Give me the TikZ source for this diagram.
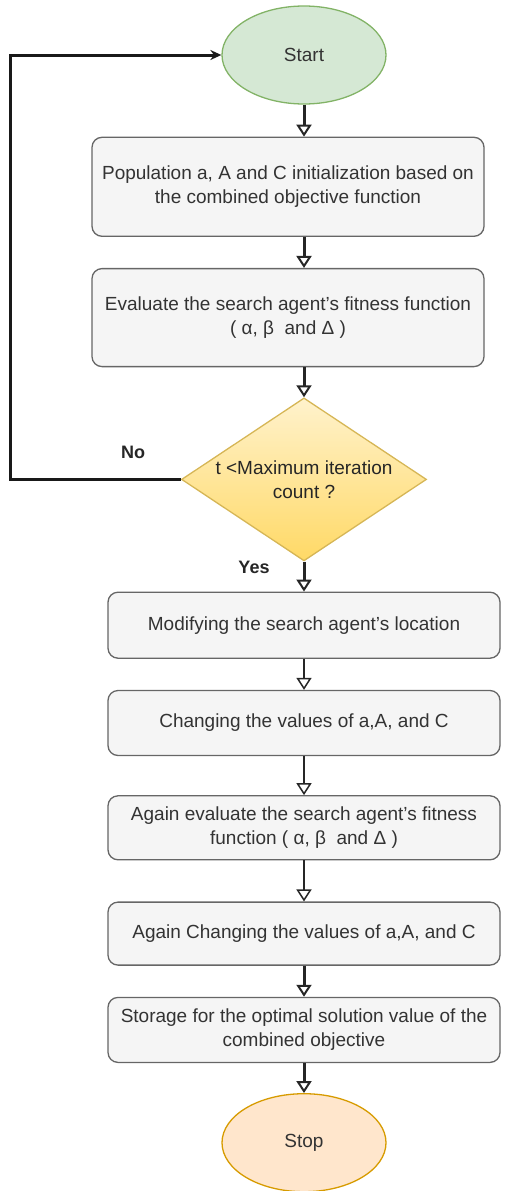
\documentclass[tikz,border=0pt]{standalone}
\usepackage{fontspec}
\setmainfont{Liberation Sans}
\usetikzlibrary{arrows.meta,positioning,shapes.geometric}

\definecolor{startfill}{HTML}{D5E8D4}
\definecolor{startline}{HTML}{82B366}
\definecolor{boxfill}{HTML}{F5F5F5}
\definecolor{boxline}{HTML}{666666}
\definecolor{txtgray}{HTML}{333333}
\definecolor{decline}{HTML}{D6B656}
\definecolor{dectop}{HTML}{FFF2CC}
\definecolor{decbottom}{HTML}{FFD966}
\definecolor{stopfill}{HTML}{FFE6CC}
\definecolor{stopline}{HTML}{D79B00}

\begin{document}
\begin{tikzpicture}[x=1pt, y=-1pt,
  font=\fontsize{19}{24}\selectfont, text=txtgray,
  box/.style={draw=boxline, fill=boxfill, rounded corners=10pt,
              line width=1.3pt, minimum width=392pt, align=center,
              inner sep=2pt},
  term/.style={ellipse, line width=1.3pt, minimum width=164pt,
               minimum height=98pt, inner sep=0pt},
  decision/.style={diamond, aspect=1.5, draw=decline, line width=1.3pt,
                   top color=dectop, bottom color=decbottom,
                   minimum width=245pt, minimum height=163pt,
                   inner sep=0pt, align=center, text=black!85},
  arr/.style={-{Triangle[open, width=15pt, length=12pt, line width=2pt]},
              line width=3pt, draw=black!85},
  thinarr/.style={-{Triangle[open, width=15pt, length=12pt, line width=1.5pt]},
                  line width=1.3pt, draw=black!85},
  lab/.style={font=\bfseries\fontsize{18}{20}\selectfont, text=black!85}
]
  \useasboundingbox (0,0) rectangle (510,1191);

  \node[term, fill=startfill, draw=startline] (start) at (304,55) {Start};
  \node[box, minimum height=99pt, below=32pt of start, xshift=-16pt] (init)
    {Population a, A and C initialization based on\\the combined objective function};
  \node[box, minimum height=98pt, below=31pt of init] (eval)
    {Evaluate the search agent's fitness function\\( α, β\ \ and Δ )};
  \node[decision, below=30pt of eval, xshift=16pt] (check)
    {t <Maximum iteration\\count ?};
  \node[box, minimum height=66pt, below=30pt of check] (move)
    {Modifying the search agent's location};
  \node[box, minimum height=65pt, below=31pt of move] (change)
    {Changing the values of a,A, and C};
  \node[box, minimum height=64pt, below=39pt of change] (reeval)
    {Again evaluate the search agent's fitness\\function ( α, β\ \ and Δ )};
  \node[box, minimum height=63pt, below=41pt of reeval] (rechange)
    {Again Changing the values of a,A, and C};
  \node[box, minimum height=65pt, below=31pt of rechange] (store)
    {Storage for the optimal solution value of the\\combined objective};
  \node[term, fill=stopfill, draw=stopline, below=30pt of store] (stop) {Stop};

  \node[lab] (no) at (133,452) {No};
  \node[lab] (yes) at (254,567) {Yes};
  \coordinate (loopcorner) at (10,55);

  \draw[arr] (start) -- (start |- init.north);
  \draw[arr] (init.south -| start) -- (eval.north -| start);
  \draw[arr] (eval.south -| check) -- (check);
  \draw[arr] (check) -- (move);
  \draw[thinarr] (move) -- (change);
  \draw[thinarr] (change) -- (reeval);
  \draw[thinarr] (reeval) -- (rechange);
  \draw[arr] (rechange) -- (store);
  \draw[arr] (store) -- (stop);
  \draw[line width=3pt, draw=black!90, -{Stealth[length=11pt, width=10pt]}]
    (check.west) -| (loopcorner) -- (start.west);
\end{tikzpicture}
\end{document}
